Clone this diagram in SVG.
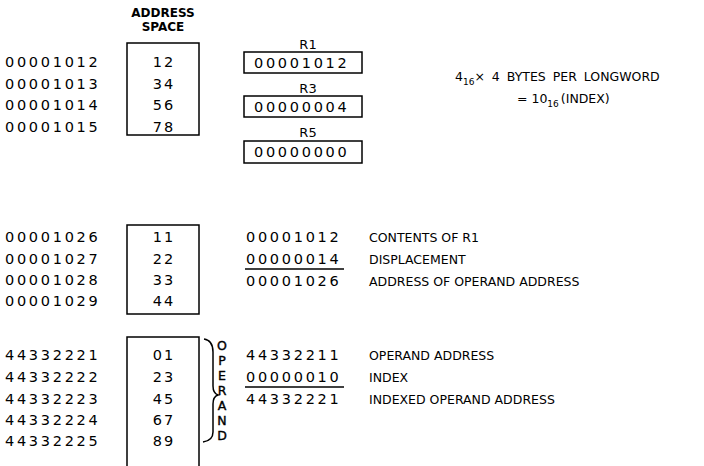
<svg xmlns="http://www.w3.org/2000/svg" width="704" height="466" viewBox="0 0 704 466">
<style>
text{font-family:"DejaVu Sans","Liberation Sans",sans-serif;fill:#000}
.num{font-size:14.5px;letter-spacing:2.7px}
.val{font-size:14.5px;letter-spacing:2px;text-anchor:middle}
.lbl{font-size:12.5px}
.reg{font-size:13px;text-anchor:middle}
.hd{font-size:12px;text-anchor:middle;font-weight:bold}
.op{font-size:12.5px;text-anchor:middle;stroke:#000;stroke-width:0.4}
.box{fill:none;stroke:#000;stroke-width:1.5}
.ul{stroke:#000;stroke-width:1.5}
</style>
<rect width="704" height="466" fill="#fff"/>
<g id="header">
<text class="hd" x="163" y="17">ADDRESS</text>
<text class="hd" x="163" y="31">SPACE</text>
</g>
<g id="mem1">
<rect class="box" x="127" y="43" width="72" height="92"/>
<text class="num" x="5" y="67">00001012</text>
<text class="num" x="5" y="89">00001013</text>
<text class="num" x="5" y="110">00001014</text>
<text class="num" x="5" y="132">00001015</text>
<text class="val" x="164" y="67">12</text>
<text class="val" x="164" y="89">34</text>
<text class="val" x="164" y="110">56</text>
<text class="val" x="164" y="132">78</text>
</g>
<g id="R1">
<text class="reg" x="308" y="49">R1</text>
<rect class="box" x="244" y="52" width="118" height="21"/>
<text class="num" x="254" y="68">00001012</text>
</g>
<g id="R3">
<text class="reg" x="308" y="93">R3</text>
<rect class="box" x="244" y="96" width="118" height="21"/>
<text class="num" x="254" y="112">00000004</text>
</g>
<g id="R5">
<text class="reg" x="308" y="137">R5</text>
<rect class="box" x="244" y="141" width="118" height="22"/>
<text class="num" x="254" y="157">00000000</text>
</g>
<g id="note">
<text class="lbl" x="455" y="81" word-spacing="3">4<tspan font-size="9" dy="4">16</tspan><tspan dy="-4">× 4 BYTES PER LONGWORD</tspan></text>
<text class="lbl" x="517" y="103">= 10<tspan font-size="9" dy="4">16</tspan><tspan dy="-4" dx="2">(INDEX)</tspan></text>
</g>
<g id="mem2">
<rect class="box" x="127" y="225" width="72" height="89"/>
<text class="num" x="5" y="242">00001026</text>
<text class="num" x="5" y="264">00001027</text>
<text class="num" x="5" y="285">00001028</text>
<text class="num" x="5" y="306">00001029</text>
<text class="val" x="164" y="242">11</text>
<text class="val" x="164" y="264">22</text>
<text class="val" x="164" y="285">33</text>
<text class="val" x="164" y="306">44</text>
</g>
<g id="calc1">
<text class="num" x="246" y="242">00001012</text>
<text class="lbl" x="369" y="242">CONTENTS OF R1</text>
<text class="num" x="246" y="264">00000014</text>
<text class="lbl" x="369" y="264">DISPLACEMENT</text>
<text class="num" x="246" y="286">00001026</text>
<text class="lbl" x="369" y="286">ADDRESS OF OPERAND ADDRESS</text>
</g>
<g id="mem3">
<rect class="box" x="127" y="337" width="72" height="140"/>
<text class="num" x="5" y="360">44332221</text>
<text class="num" x="5" y="382">44332222</text>
<text class="num" x="5" y="404">44332223</text>
<text class="num" x="5" y="425">44332224</text>
<text class="num" x="5" y="446">44332225</text>
<text class="val" x="164" y="360">01</text>
<text class="val" x="164" y="382">23</text>
<text class="val" x="164" y="404">45</text>
<text class="val" x="164" y="425">67</text>
<text class="val" x="164" y="446">89</text>
</g>
<g id="operand">
<text class="op" x="222" y="350">O</text>
<text class="op" x="222" y="365">P</text>
<text class="op" x="222" y="380">E</text>
<text class="op" x="222" y="395">R</text>
<text class="op" x="222" y="410">A</text>
<text class="op" x="222" y="425">N</text>
<text class="op" x="222" y="440">D</text>
</g>
<g id="calc2">
<text class="num" x="246" y="360">44332211</text>
<text class="lbl" x="369" y="360">OPERAND ADDRESS</text>
<text class="num" x="246" y="382">00000010</text>
<text class="lbl" x="369" y="382">INDEX</text>
<text class="num" x="246" y="404">44332221</text>
<text class="lbl" x="369" y="404">INDEXED OPERAND ADDRESS</text>
</g>
<g id="connectors">
<path d="M204,339 C211,340 213,345 213,352 L213,386 C213,391 215,394 218,395 C215,396 213,399 213,404 L213,432 C213,438 210,441 203,442" fill="none" stroke="#000" stroke-width="1.5"/>
<line class="ul" x1="245" y1="269" x2="344" y2="269"/>
<line class="ul" x1="245" y1="387" x2="344" y2="387"/>
</g>
</svg>
